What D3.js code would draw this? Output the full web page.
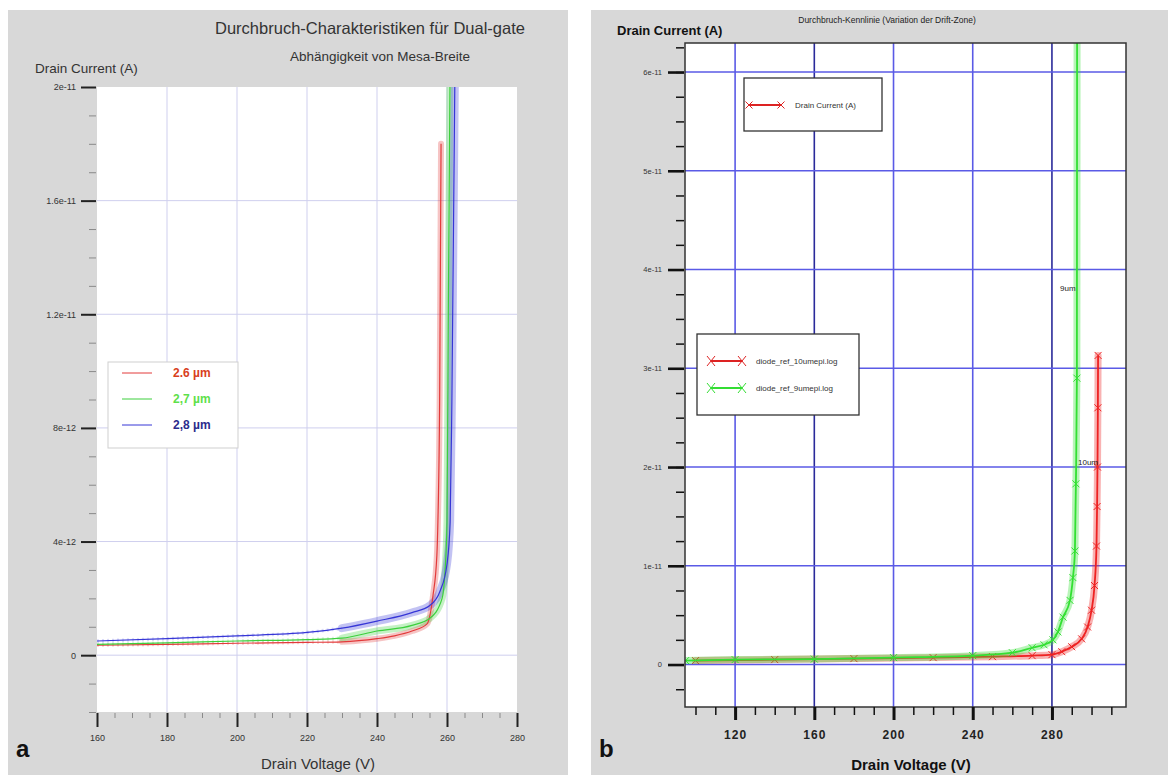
<!DOCTYPE html>
<html>
<head>
<meta charset="utf-8">
<script src="https://cdn.jsdelivr.net/npm/d3@7"></script>
<style>
  body { margin: 0; background: #fff; }
  svg { display: block; font-family: "Liberation Sans", Arial, sans-serif; }
</style>
</head>
<body>
<script>
// ---- panel a : Mesa-Breite (current in A, voltage in V)
var leftSeries = ['2.6 µm', '2,7 µm', '2,8 µm'];
var leftRed = [[160, 0.35e-12], [180, 0.38e-12], [200, 0.42e-12], [220, 0.45e-12], [230, 0.47e-12],
  [240, 0.58e-12], [245, 0.68e-12], [250, 0.85e-12], [254.3, 1.1e-12], [256, 2.1e-12],
  [257.1, 3.5e-12], [257.4, 4.7e-12], [257.9, 9e-12], [258.3, 18e-12]];
var leftGreen = [[160, 0.38e-12], [180, 0.43e-12], [200, 0.5e-12], [220, 0.55e-12], [230, 0.6e-12],
  [240, 0.85e-12], [250, 1.05e-12], [255.1, 1.3e-12], [258.6, 2.0e-12], [259.4, 2.9e-12],
  [260, 4.7e-12], [260.4, 12.5e-12], [260.9, 21e-12]];
var leftBlue = [[160, 0.5e-12], [180, 0.58e-12], [200, 0.68e-12], [220, 0.8e-12], [230, 0.95e-12],
  [240, 1.2e-12], [250, 1.5e-12], [255.1, 1.75e-12], [258, 2.25e-12], [260, 3.2e-12],
  [260.9, 4.7e-12], [261.4, 9e-12], [262.3, 21e-12]];
var leftXTicks = [160, 180, 200, 220, 240, 260, 280];
var leftYTicks = [0, 4e-12, 8e-12, 1.2e-11, 1.6e-11, 2e-11];
var leftYLabels = ['0', '4e-12', '8e-12', '1.2e-11', '1.6e-11', '2e-11'];

// ---- panel b : Drift-Zone
var rightSeries = ['diode_ref_10umepi.log', 'diode_ref_9umepi.log'];
var right10um = [[100, 0.04e-11], [140, 0.05e-11], [180, 0.06e-11], [220, 0.07e-11], [250, 0.08e-11],
  [270, 0.09e-11], [280, 0.1e-11], [285, 0.13e-11], [290, 0.18e-11], [295, 0.26e-11],
  [298, 0.38e-11], [300, 0.55e-11], [301.5, 0.8e-11], [302.5, 1.2e-11], [302.8, 1.6e-11],
  [303, 2.0e-11], [303.2, 2.6e-11], [303.3, 3.13e-11]];
var right9um = [[95, 0.04e-11], [120, 0.05e-11], [160, 0.055e-11], [200, 0.07e-11], [240, 0.09e-11],
  [260, 0.12e-11], [270, 0.17e-11], [276, 0.2e-11], [280.5, 0.25e-11], [283, 0.33e-11],
  [285.6, 0.48e-11], [289.1, 0.65e-11], [290.6, 0.88e-11], [291.6, 1.15e-11], [292.1, 1.83e-11],
  [292.6, 2.9e-11], [292.7, 6.5e-11]];
var rightXTicks = [120, 160, 200, 240, 280];
var rightYTicks = [0, 1e-11, 2e-11, 3e-11, 4e-11, 5e-11, 6e-11];
var rightYLabels = ['0', '1e-11', '2e-11', '3e-11', '4e-11', '5e-11', '6e-11'];

var svg = d3.select('body').append('svg')
  .attr('width', 1173)
  .attr('height', 775);

// grey backgrounds
svg.append('rect').attr('x', 8).attr('y', 10).attr('width', 560).attr('height', 770).style('fill', '#d8d8d8');
svg.append('rect').attr('x', 591).attr('y', 10).attr('width', 577).attr('height', 770).style('fill', '#d8d8d8');

var defs = svg.append('defs');

// ================= panel a
var xa = d3.scaleLinear().domain([160, 280]).range([97, 517]);
var ya = d3.scaleLinear().domain([-2e-12, 2e-11]).range([712, 87]);

defs.append('clipPath').attr('id', 'clipA').append('rect')
  .attr('x', 97).attr('y', 87).attr('width', 420).attr('height', 625);

svg.append('rect').attr('x', 97).attr('y', 87).attr('width', 420).attr('height', 625).style('fill', '#fff');

var gridA = svg.append('g');
gridA.selectAll('.vx').data(leftXTicks.slice(1, -1)).enter().append('line')
  .attr('x1', function(d){ return xa(d); }).attr('x2', function(d){ return xa(d); })
  .attr('y1', 87).attr('y2', 712)
  .style('stroke', '#cfcfee').style('stroke-width', 1);
gridA.selectAll('.hy').data(leftYTicks.slice(0, -1)).enter().append('line')
  .attr('x1', 97).attr('x2', 517)
  .attr('y1', function(d){ return ya(d); }).attr('y2', function(d){ return ya(d); })
  .style('stroke', '#cfcfee').style('stroke-width', 1);

// axes a
var minorYA = d3.range(-2, 21).map(function(d){ return d * 1e-12; });
svg.append('g').attr('transform', 'translate(96,0)')
  .call(d3.axisLeft(ya).tickValues(minorYA).tickSize(7).tickFormat(''))
  .call(function(g){ g.select('.domain').remove(); g.selectAll('line').style('stroke', '#8a8a8a'); });
svg.append('g').attr('transform', 'translate(96,0)')
  .call(d3.axisLeft(ya).tickValues(leftYTicks).tickSize(15).tickPadding(5)
    .tickFormat(function(d, i){ return leftYLabels[i]; }))
  .call(function(g){
    g.select('.domain').remove();
    g.selectAll('line').style('stroke', '#222').style('stroke-width', 2);
    g.selectAll('text').style('font-size', '9px').style('fill', '#333');
  });

var minorXA = d3.range(160, 281, 5);
svg.append('g').attr('transform', 'translate(0,713)')
  .call(d3.axisBottom(xa).tickValues(minorXA).tickSize(5).tickFormat(''))
  .call(function(g){ g.select('.domain').remove(); g.selectAll('line').style('stroke', '#8a8a8a'); });
svg.append('g').attr('transform', 'translate(0,713)')
  .call(d3.axisBottom(xa).tickValues(leftXTicks).tickSize(14).tickPadding(8))
  .call(function(g){
    g.select('.domain').remove();
    g.selectAll('line').style('stroke', '#222').style('stroke-width', 2);
    g.selectAll('text').style('font-size', '9px').style('fill', '#333');
  });

var lineA = d3.line()
  .x(function(d){ return xa(d[0]); })
  .y(function(d){ return ya(d[1]); })
  .curve(d3.curveMonotoneX);

var plotA = svg.append('g').attr('clip-path', 'url(#clipA)');
var seriesA = [
  {data: leftRed, color: '#e23a3a', band: 6},
  {data: leftGreen, color: '#3ccf3c', band: 7},
  {data: leftBlue, color: '#3636d6', band: 8}
];
seriesA.forEach(function(s){
  // faint sparse markers before 230 V
  plotA.append('path').datum(s.data.filter(function(d){ return d[0] <= 232; }))
    .attr('d', lineA)
    .style('fill', 'none').style('stroke', s.color).style('stroke-width', 3.5)
    .style('stroke-dasharray', '2,3').style('opacity', 0.18);
  // dense marker band from 230 V
  plotA.append('path').datum(s.data.filter(function(d){ return d[0] >= 230; }))
    .attr('d', lineA)
    .style('fill', 'none').style('stroke', s.color).style('stroke-width', s.band)
    .style('opacity', 0.3).style('stroke-linecap', 'round');
});
seriesA.forEach(function(s){
  plotA.append('path').datum(s.data)
    .attr('d', lineA)
    .style('fill', 'none').style('stroke', s.color).style('stroke-width', 1.2);
});

// legend a
var legA = svg.append('g');
legA.append('rect').attr('x', 108).attr('y', 362).attr('width', 130).attr('height', 86)
  .style('fill', '#fff').style('stroke', '#cfcfcf');
var legAColors = ['#e23a3a', '#3ccf3c', '#3636d6'];
var legAText = ['#d8401c', '#5ee04a', '#2c2c8c'];
legA.selectAll('.ll').data(leftSeries).enter().append('line')
  .attr('x1', 122).attr('x2', 152)
  .attr('y1', function(d, i){ return 373 + i * 26; }).attr('y2', function(d, i){ return 373 + i * 26; })
  .style('stroke', function(d, i){ return legAColors[i]; }).style('stroke-width', 1);
legA.selectAll('.lt').data(leftSeries).enter().append('text')
  .attr('x', 173).attr('y', function(d, i){ return 377 + i * 26; })
  .style('font-size', '12px').style('font-weight', 'bold')
  .style('fill', function(d, i){ return legAText[i]; })
  .text(function(d){ return d; });

svg.append('text').attr('x', 370).attr('y', 34).attr('text-anchor', 'middle')
  .style('font-size', '16.5px').style('fill', '#333').text('Durchbruch-Charakteristiken für Dual-gate');
svg.append('text').attr('x', 380).attr('y', 61).attr('text-anchor', 'middle')
  .style('font-size', '13.5px').style('fill', '#333').text('Abhängigkeit von Mesa-Breite');
svg.append('text').attr('x', 35).attr('y', 73)
  .style('font-size', '13.5px').style('fill', '#333').text('Drain Current (A)');
svg.append('text').attr('x', 318).attr('y', 769).attr('text-anchor', 'middle')
  .style('font-size', '15px').style('fill', '#333').text('Drain Voltage (V)');
svg.append('text').attr('x', 16).attr('y', 757)
  .style('font-size', '24px').style('font-weight', 'bold').style('fill', '#111').text('a');

// ================= panel b
var xb = d3.scaleLinear().domain([94.7, 317.4]).range([685, 1126]);
var yb = d3.scaleLinear().domain([-0.43e-11, 6.294e-11]).range([707, 43]);

defs.append('clipPath').attr('id', 'clipB').append('rect')
  .attr('x', 685).attr('y', 43).attr('width', 441).attr('height', 664);

svg.append('rect').attr('x', 685).attr('y', 43).attr('width', 441).attr('height', 664).style('fill', '#fff');

var gridB = svg.append('g');
gridB.selectAll('.vx').data(rightXTicks).enter().append('line')
  .attr('x1', function(d){ return xb(d); }).attr('x2', function(d){ return xb(d); })
  .attr('y1', 43).attr('y2', 707)
  .style('stroke', function(d){ return (d === 160 || d === 280) ? '#2a2a9a' : '#5a5ae6'; })
  .style('stroke-width', 1.6);
gridB.selectAll('.hy').data(rightYTicks).enter().append('line')
  .attr('x1', 685).attr('x2', 1126)
  .attr('y1', function(d){ return yb(d); }).attr('y2', function(d){ return yb(d); })
  .style('stroke', '#5a5ae6').style('stroke-width', 1.6);

var lineB = d3.line()
  .x(function(d){ return xb(d[0]); })
  .y(function(d){ return yb(d[1]); })
  .curve(d3.curveMonotoneX);

var cross = 'M-3.5,-3.5L3.5,3.5M-3.5,3.5L3.5,-3.5';
var plotB = svg.append('g').attr('clip-path', 'url(#clipB)');
var seriesB = [
  {data: right10um, color: '#ee2222'},
  {data: right9um, color: '#33e033'}
];
seriesB.forEach(function(s){
  plotB.append('path').datum(s.data)
    .attr('d', lineB)
    .style('fill', 'none').style('stroke', s.color).style('stroke-width', 7)
    .style('opacity', 0.35).style('stroke-linecap', 'round');
  plotB.append('path').datum(s.data)
    .attr('d', lineB)
    .style('fill', 'none').style('stroke', s.color).style('stroke-width', 1.8);
  plotB.selectAll(null).data(s.data).enter().append('path')
    .attr('transform', function(d){ return 'translate(' + xb(d[0]) + ',' + yb(d[1]) + ')'; })
    .attr('d', cross)
    .style('fill', 'none').style('stroke', s.color).style('stroke-width', 1);
});

svg.append('rect').attr('x', 685).attr('y', 43).attr('width', 441).attr('height', 664)
  .style('fill', 'none').style('stroke', '#333').style('stroke-width', 1.5);

// axes b
var minorYB = d3.range(-1, 26).map(function(d){ return d * 0.25e-11; });
svg.append('g').attr('transform', 'translate(684,0)')
  .call(d3.axisLeft(yb).tickValues(minorYB).tickSize(8).tickFormat(''))
  .call(function(g){ g.select('.domain').remove(); g.selectAll('line').style('stroke', '#111').style('stroke-width', 1.5); });
svg.append('g').attr('transform', 'translate(684,0)')
  .call(d3.axisLeft(yb).tickValues(rightYTicks).tickSize(16).tickPadding(6)
    .tickFormat(function(d, i){ return rightYLabels[i]; }))
  .call(function(g){
    g.select('.domain').remove();
    g.selectAll('line').style('stroke', '#111').style('stroke-width', 2.6);
    g.selectAll('text').style('font-size', '7.5px').style('fill', '#333');
  });

var minorXB = d3.range(100, 311, 10);
svg.append('g').attr('transform', 'translate(0,707)')
  .call(d3.axisBottom(xb).tickValues(minorXB).tickSize(8).tickFormat(''))
  .call(function(g){ g.select('.domain').remove(); g.selectAll('line').style('stroke', '#111').style('stroke-width', 1.5); });
svg.append('g').attr('transform', 'translate(0,707)')
  .call(d3.axisBottom(xb).tickValues(rightXTicks).tickSize(13).tickPadding(10))
  .call(function(g){
    g.select('.domain').remove();
    g.selectAll('line').style('stroke', '#111').style('stroke-width', 3);
    g.selectAll('text').style('font-size', '12px').style('font-weight', 'bold')
      .style('letter-spacing', '1px').style('fill', '#222');
  });

// legends b
var leg1 = svg.append('g');
leg1.append('rect').attr('x', 744).attr('y', 78).attr('width', 138).attr('height', 53)
  .style('fill', '#fff').style('stroke', '#333').style('stroke-width', 1.3);
leg1.append('line').attr('x1', 749).attr('x2', 781).attr('y1', 105).attr('y2', 105)
  .style('stroke', '#dd2222').style('stroke-width', 2);
leg1.selectAll(null).data([749, 781]).enter().append('path')
  .attr('transform', function(d){ return 'translate(' + d + ',105)'; })
  .attr('d', cross).style('stroke', '#dd2222').style('stroke-width', 1);
leg1.append('text').attr('x', 795).attr('y', 108)
  .style('font-size', '8px').style('fill', '#333').text('Drain Current (A)');

var leg2 = svg.append('g');
var leg2Colors = ['#dd2222', '#33dd33'];
leg2.append('rect').attr('x', 697).attr('y', 334).attr('width', 162).attr('height', 81)
  .style('fill', '#fff').style('stroke', '#333').style('stroke-width', 1.3);
leg2.selectAll('.l2').data(rightSeries).enter().append('line')
  .attr('x1', 711).attr('x2', 742)
  .attr('y1', function(d, i){ return 361 + i * 27; }).attr('y2', function(d, i){ return 361 + i * 27; })
  .style('stroke', function(d, i){ return leg2Colors[i]; }).style('stroke-width', 2);
rightSeries.forEach(function(s, i){
  leg2.selectAll(null).data([711, 742]).enter().append('path')
    .attr('transform', function(d){ return 'translate(' + d + ',' + (361 + i * 27) + ')'; })
    .attr('d', 'M-4,-5L4,5M-4,5L4,-5').style('stroke', leg2Colors[i]).style('stroke-width', 1);
});
leg2.selectAll('.t2').data(rightSeries).enter().append('text')
  .attr('x', 756).attr('y', function(d, i){ return 364 + i * 27; })
  .style('font-size', '8px').style('fill', '#333')
  .text(function(d){ return d; });

svg.append('text').attr('x', 1060).attr('y', 291)
  .style('font-size', '8px').style('fill', '#222').text('9um');
svg.append('text').attr('x', 1078).attr('y', 465)
  .style('font-size', '8px').style('fill', '#222').text('10um');

svg.append('text').attr('x', 887).attr('y', 23).attr('text-anchor', 'middle')
  .style('font-size', '8.5px').style('fill', '#222')
  .text('Durchbruch-Kennlinie  (Variation der Drift-Zone)');
svg.append('text').attr('x', 617).attr('y', 35)
  .style('font-size', '13px').style('font-weight', 'bold').style('fill', '#111').text('Drain Current (A)');
svg.append('text').attr('x', 911).attr('y', 770).attr('text-anchor', 'middle')
  .style('font-size', '15px').style('font-weight', 'bold').style('fill', '#111').text('Drain Voltage (V)');
svg.append('text').attr('x', 599).attr('y', 757)
  .style('font-size', '24px').style('font-weight', 'bold').style('fill', '#111').text('b');
</script>
</body>
</html>
